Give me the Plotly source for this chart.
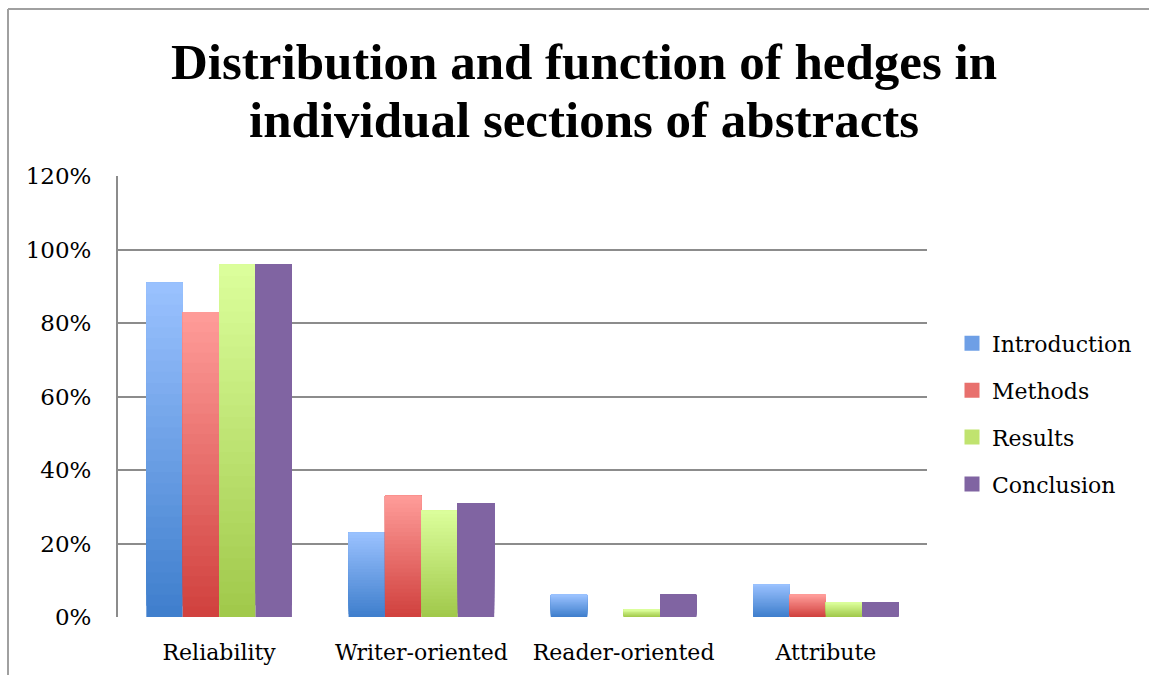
import plotly.graph_objects as go

categories = ["Reliability", "Writer-oriented", "Reader-oriented", "Attribute"]
series_names = ["Introduction", "Methods", "Results", "Conclusion"]
introduction = [0.91, 0.23, 0.06, 0.09]
methods = [0.83, 0.33, 0.00, 0.06]
results = [0.96, 0.29, 0.02, 0.04]
conclusion = [0.96, 0.31, 0.06, 0.04]
y_ticks = [0, 0.2, 0.4, 0.6, 0.8, 1.0, 1.2]
title_lines = ["Distribution and function of hedges in", "individual sections of abstracts"]

values = [introduction, methods, results, conclusion]
# gradient colours (bottom, top) per series
grad = [
    ((62, 126, 204), (155, 194, 255)),
    ((208, 64, 61), (255, 157, 154)),
    ((160, 200, 74), (220, 255, 156)),
    ((128, 100, 162), (128, 100, 162)),
]
legend_colors = ["#6e9fe6", "#e8706d", "#c0e36f", "#8064a2"]
K = 30

W, H = 1149, 675
L, R, T, B = 118, 222, 176, 58
pw, ph = W - L - R, H - T - B


def px(x):
    return (x - L) / pw


def py(y):
    return (H - B - y) / ph


fig = go.Figure()
for s, (name, vals) in enumerate(zip(series_names, values)):
    c0, c1 = grad[s]
    for k in range(K):
        t = (k + 0.5) / K
        col = "rgb(%d,%d,%d)" % tuple(round(c0[i] + (c1[i] - c0[i]) * t) for i in range(3))
        bases = [v * k / K for v in vals]
        fig.add_trace(go.Bar(
            x=categories,
            y=[v - b for v, b in zip(vals, bases)],
            base=bases,
            offsetgroup=str(s),
            legendgroup=name,
            name=name,
            showlegend=False,
            marker=dict(color=col, line=dict(width=0)),
            hovertemplate=name + ": %{customdata:.0%}<extra></extra>",
            customdata=vals,
        ))

# legend entries (square swatches)
for s, name in enumerate(series_names):
    fig.add_trace(go.Scatter(
        x=[None], y=[None], mode="markers", name=name, legendgroup=name,
        marker=dict(symbol="square", size=15, color=legend_colors[s], line=dict(width=0)),
        hoverinfo="skip",
    ))

font_family = "DejaVu Serif"
annotations = [
    dict(text=title_lines[0], xref="paper", yref="paper", x=px(584), y=py(62),
         xanchor="center", yanchor="middle", showarrow=False,
         font=dict(family="Liberation Serif", size=51, color="black", weight="bold")),
    dict(text=title_lines[1], xref="paper", yref="paper", x=px(584), y=py(120),
         xanchor="center", yanchor="middle", showarrow=False,
         font=dict(family="Liberation Serif", size=51, color="black", weight="bold")),
]
fig.update_layout(
    template="none",
    width=W, height=H, autosize=False,
    margin=dict(l=L, r=R, t=T, b=B),
    paper_bgcolor="white",
    plot_bgcolor="white",
    barmode="group",
    bargap=0.28,
    bargroupgap=0,
    font=dict(family=font_family, size=22, color="black"),
    annotations=annotations,
    legend=dict(
        x=px(952), xanchor="left", y=py(414), yanchor="middle",
        font=dict(family=font_family, size=22),
        traceorder="grouped", tracegroupgap=15.3,
        itemclick=False, bgcolor="rgba(0,0,0,0)",
    ),
    xaxis=dict(
        showgrid=False, showline=False, zeroline=False,
        ticks="", ticklabelstandoff=20,
        tickfont=dict(family=font_family, size=22),
    ),
    yaxis=dict(
        range=[0, 1.2], tickvals=y_ticks, tickformat=".0%",
        showgrid=True, gridcolor="#8c8c8c", gridwidth=2,
        showline=True, linecolor="#8c8c8c", linewidth=2,
        zeroline=False, ticks="", ticklabelstandoff=20,
        tickfont=dict(family=font_family, size=23),
    ),
    shapes=[
        dict(type="line", xref="paper", yref="paper", x0=px(8), x1=px(1149), y0=py(9), y1=py(9),
             line=dict(color="#a0a0a0", width=2)),
        dict(type="line", xref="paper", yref="paper", x0=px(8), x1=px(8), y0=py(9), y1=py(675),
             line=dict(color="#a0a0a0", width=2)),
    ],
)

post = (
    "document.documentElement.style.overflow='hidden';"
    "document.body.style.overflow='hidden';"
    "document.body.style.margin='0';"
    "var g=document.getElementsByClassName('plotly-graph-div')[0];"
    "g.style.width='1149px';g.style.height='675px';"
    "Plotly.relayout(g,{width:1149,height:675});"
)
fig.write_html("out.html", config={"responsive": False}, post_script=post)
